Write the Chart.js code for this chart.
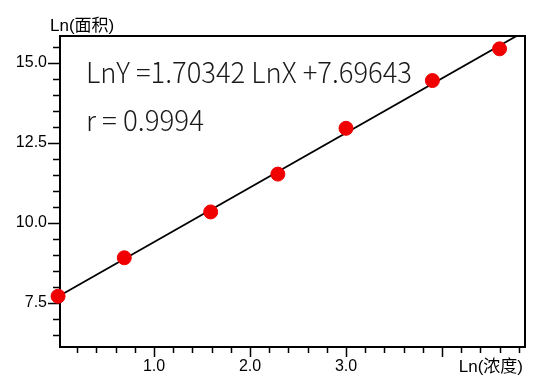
<!DOCTYPE html>
<html lang="zh">
<head>
    <meta charset="UTF-8">
    <title>Ln(面积) vs Ln(浓度)</title>
    <script src="https://cdn.jsdelivr.net/npm/chart.js"></script>
    <style>
    html, body {
        margin: 0;
        padding: 0;
        background: #ffffff;
    }
    #wrap {
        width: 554px;
        height: 386px;
        position: relative;
    }
</style>
</head>
<body>
    <div id="wrap">
        <canvas id="chart" width="554" height="386"></canvas>
    </div>
    <script>
    // points
    const lnConc = [0.00, 0.69, 1.59, 2.29, 3.00, 3.90, 4.60];
    const lnArea = [7.71, 8.91, 10.34, 11.52, 12.95, 14.44, 15.43];

    // regression line end points
    const fitX = [0.00, 4.80];
    const fitY = [7.70, 15.87];

    const equationText = 'LnY =1.70342 LnX +7.69643';
    const rText = 'r = 0.9994';
    const xTitle = 'Ln(浓度)';
    const yTitle = 'Ln(面积)';

    const tickFont = { family: '"Liberation Sans", Arial, sans-serif', size: 16 };

    function isWhole(v, step) {
        const q = v / step;
        return Math.abs(q - Math.round(q)) < 1e-6;
    }

    // frame + all tick marks, drawn under the points
    const framePlugin = {
        id: 'frame',
        beforeDatasetsDraw(chart) {
            const ctx = chart.ctx;
            const a = chart.chartArea;
            const xs = chart.scales.x;
            const ys = chart.scales.y;
            ctx.save();
            ctx.strokeStyle = '#000';
            ctx.lineWidth = 2;
            ctx.strokeRect(a.left, a.top, a.right - a.left, a.bottom - a.top);

            ctx.lineWidth = 1.5;
            ctx.beginPath();
            for (let k = 1; k * 0.2 < xs.max; k++) {
                const v = k * 0.2;
                const len = isWhole(v, 1) ? 10 : 6;
                const px = Math.round(xs.getPixelForValue(v)) + 0.5;
                ctx.moveTo(px, a.bottom);
                ctx.lineTo(px, a.bottom + len);
            }
            for (let k = 13; k * 0.5 < ys.max; k++) {
                const v = k * 0.5;
                const len = isWhole(v, 2.5) ? 12 : 7;
                const py = Math.round(ys.getPixelForValue(v)) + 0.5;
                ctx.moveTo(a.left, py);
                ctx.lineTo(a.left - len, py);
            }
            ctx.stroke();
            ctx.restore();
        },
        afterDraw(chart) {
            const ctx = chart.ctx;
            const a = chart.chartArea;
            ctx.save();
            ctx.fillStyle = '#000';
            ctx.textBaseline = 'alphabetic';

            ctx.font = '17px "Liberation Sans", "Noto Sans CJK SC", sans-serif';
            ctx.textAlign = 'left';
            ctx.fillText(yTitle, 50, 31, 76);
            ctx.textAlign = 'right';
            ctx.fillText(xTitle, a.right - 2, 372, 75);

            ctx.font = '300 28px "Noto Sans CJK SC", sans-serif';
            ctx.fillStyle = '#1a1a1a';
            ctx.textAlign = 'left';
            ctx.fillText(equationText, 86, 83, 326);
            ctx.fillText(rText, 86, 131, 118);
            ctx.restore();
        }
    };

    const ctx = document.getElementById('chart').getContext('2d');
    new Chart(ctx, {
        type: 'scatter',
        data: {
            datasets: [
                {
                    label: 'data',
                    data: lnConc.map((x, i) => ({ x: x, y: lnArea[i] })),
                    backgroundColor: 'rgb(240, 0, 0)',
                    borderColor: 'rgb(240, 0, 0)',
                    pointRadius: 7,
                    pointHoverRadius: 7,
                    clip: false,
                    order: 0
                },
                {
                    label: 'fit',
                    type: 'line',
                    data: fitX.map((x, i) => ({ x: x, y: fitY[i] })),
                    borderColor: '#000',
                    borderWidth: 1.8,
                    pointRadius: 0,
                    fill: false,
                    order: 1
                }
            ]
        },
        options: {
            responsive: false,
            animation: false,
            events: [],
            layout: { padding: { top: 36, right: 29, left: 0, bottom: 0 } },
            plugins: {
                legend: { display: false },
                tooltip: { enabled: false }
            },
            scales: {
                x: {
                    type: 'linear',
                    min: 0.02,
                    max: 4.865,
                    afterFit: s => { s.height = 39; },
                    border: { display: false },
                    grid: {
                        drawOnChartArea: false,
                        tickLength: 10,
                        tickColor: 'rgba(0,0,0,0)'
                    },
                    ticks: {
                        stepSize: 1,
                        includeBounds: false,
                        autoSkip: false,
                        maxRotation: 0,
                        padding: 0,
                        color: '#000',
                        font: tickFont,
                        callback: v => (v < 3.5 ? v.toFixed(1) : '')
                    }
                },
                y: {
                    type: 'linear',
                    min: 6.125,
                    max: 15.83,
                    afterFit: s => { s.width = 60; },
                    border: { display: false },
                    grid: {
                        drawOnChartArea: false,
                        tickLength: 12,
                        tickColor: 'rgba(0,0,0,0)'
                    },
                    ticks: {
                        stepSize: 2.5,
                        includeBounds: false,
                        padding: 1,
                        color: '#000',
                        font: tickFont,
                        callback: v => v.toFixed(1)
                    }
                }
            }
        },
        plugins: [framePlugin]
    });
</script>
</body>
</html>
